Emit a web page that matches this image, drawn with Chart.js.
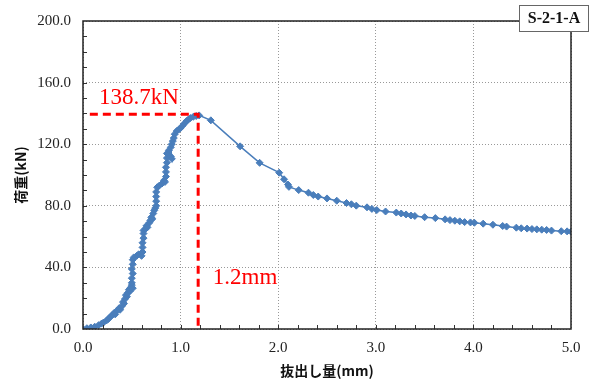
<!DOCTYPE html>
<html>
<head>
<meta charset="utf-8">
<script src="https://cdn.jsdelivr.net/npm/chart.js@4/dist/chart.umd.min.js"></script>
<style>
  html, body { margin: 0; padding: 0; background: #fff; }
  #wrap { width: 595px; height: 381px; }
</style>
</head>
<body>
<div id="wrap"><canvas id="pullout"></canvas></div>
<script>
// displacement (mm) and load (kN)
const slip = [
  0.00, 0.04, 0.08, 0.12, 0.16, 0.19, 0.21, 0.24, 0.26, 0.28, 0.30, 0.32, 0.33, 0.35, 0.37, 0.38,
  0.40, 0.41, 0.42, 0.43, 0.45, 0.44, 0.46, 0.47, 0.48, 0.49, 0.50, 0.51, 0.50, 0.50, 0.51, 0.50,
  0.51, 0.51, 0.52, 0.55, 0.57, 0.60, 0.61, 0.61, 0.61, 0.62, 0.62, 0.62, 0.64, 0.65, 0.66, 0.68,
  0.69, 0.70, 0.71, 0.72, 0.73, 0.74, 0.75, 0.75, 0.75, 0.75, 0.76, 0.78, 0.81, 0.83, 0.84, 0.85,
  0.85, 0.85, 0.86, 0.86, 0.86, 0.88, 0.90, 0.91, 0.90, 0.91, 0.92, 0.93, 0.94, 0.96, 0.98, 1.00,
  1.02, 1.04, 1.06, 1.08, 1.10, 1.13, 1.16, 1.19,
  1.31, 1.61, 1.81, 2.01, 2.06, 2.10, 2.11, 2.21, 2.31, 2.36, 2.41, 2.50, 2.60, 2.70, 2.75, 2.80,
  2.91, 2.96, 3.01, 3.10, 3.21, 3.26, 3.31, 3.36, 3.40, 3.50, 3.61, 3.71, 3.76, 3.81, 3.86, 3.91,
  3.97, 4.01, 4.10, 4.20, 4.30, 4.34, 4.44, 4.49, 4.55, 4.60, 4.65, 4.70, 4.75, 4.80, 4.90, 4.96, 5.00
];
const load = [
  0.0, 0.5, 1.0, 1.5, 2.5, 3.5, 4.2, 5.5, 6.5, 8.0, 9.0, 10.5, 9.5, 12.0, 13.5, 12.5,
  15.0, 17.5, 16.5, 19.5, 21.0, 22.0, 23.5, 25.5, 24.5, 27.0, 28.5, 26.5, 30.0, 33.0, 36.0, 39.0,
  42.0, 45.0, 46.5, 47.5, 48.5, 47.5, 50.0, 53.0, 56.0, 59.0, 62.0, 64.0, 65.0, 67.0, 66.0, 69.0,
  70.5, 72.5, 71.5, 75.0, 77.0, 78.5, 80.0, 83.0, 86.0, 89.0, 92.0, 93.0, 94.5, 96.5, 95.5, 99.0,
  102.0, 105.0, 108.0, 111.0, 114.0, 116.0, 112.0, 110.5, 118.0, 120.0, 122.0, 124.0, 126.5, 128.5, 129.5, 130.5,
  132.0, 133.5, 135.0, 136.0, 137.0, 137.8, 138.3, 138.7,
  135.5, 118.6, 107.9, 101.5, 97.2, 93.8, 92.3, 90.2, 88.5, 87.0, 86.0, 84.8, 83.3, 81.8, 81.0, 80.1,
  79.0, 78.0, 77.2, 76.3, 75.6, 75.0, 74.4, 73.7, 73.4, 72.6, 72.0, 71.2, 70.7, 70.3, 69.9, 69.4,
  69.2, 69.0, 68.4, 67.7, 66.9, 66.5, 65.8, 65.4, 65.2, 64.9, 64.7, 64.5, 64.3, 63.9, 63.5, 63.4, 63.2
];

// peak marker
const peakSlip = 1.18;
const peakLoad = 139.5;
const peakLabel = "138.7kN";
const slipLabel = "1.2mm";
const specimen = "S-2-1-A";

const xTicks = [0, 1, 2, 3, 4, 5];
const yTicks = [0, 40, 80, 120, 160, 200];

const serif = '"Liberation Serif", "Times New Roman", serif';
const blue = '#4a7ebb';

const points = slip.map((s, i) => ({ x: s, y: load[i] }));

// frame, inner minor ticks, red labels and the specimen box
const decor = {
  id: 'decor',
  afterDraw(chart) {
    const { ctx, chartArea: a, scales: { x, y } } = chart;
    ctx.save();

    ctx.strokeStyle = '#333';
    ctx.lineWidth = 1;
    ctx.beginPath();
    for (let v = 0.2; v < 5; v += 0.2) {
      const px = Math.round(x.getPixelForValue(v)) + 0.5;
      ctx.moveTo(px, a.bottom);
      ctx.lineTo(px, a.bottom - 4);
    }
    for (let v = 10; v < 200; v += 10) {
      const py = Math.round(y.getPixelForValue(v)) + 0.5;
      ctx.moveTo(a.left, py);
      ctx.lineTo(a.left + 4, py);
    }
    ctx.stroke();

    ctx.strokeStyle = '#222';
    ctx.lineWidth = 1.5;
    ctx.strokeRect(a.left, a.top, a.right - a.left, a.bottom - a.top);

    ctx.fillStyle = '#ff0000';
    ctx.font = '23px ' + serif;
    ctx.textAlign = 'left';
    ctx.textBaseline = 'alphabetic';
    ctx.fillText(peakLabel, x.getPixelForValue(0.165), y.getPixelForValue(peakLoad) - 10);
    ctx.fillText(slipLabel, x.getPixelForValue(1.33), y.getPixelForValue(29.5));

    ctx.fillStyle = '#fff';
    ctx.fillRect(519, 5, 69, 26);
    ctx.strokeStyle = '#666';
    ctx.lineWidth = 1;
    ctx.strokeRect(519.5, 5.5, 69, 26);
    ctx.fillStyle = '#111';
    ctx.font = 'bold 16px ' + serif;
    ctx.textAlign = 'center';
    ctx.textBaseline = 'middle';
    ctx.fillText(specimen, 554, 19);

    ctx.restore();
  }
};

new Chart(document.getElementById('pullout'), {
  type: 'scatter',
  data: {
    datasets: [
      {
        data: [{ x: 0.07, y: peakLoad }, { x: peakSlip, y: peakLoad }, { x: peakSlip, y: 0 }],
        showLine: true,
        borderColor: '#ff0000',
        borderWidth: 3,
        borderDash: [8, 5],
        pointRadius: 0,
        order: 0
      },
      {
        data: points,
        showLine: true,
        borderColor: blue,
        backgroundColor: blue,
        borderWidth: 1.5,
        pointStyle: 'rectRot',
        pointRadius: 3.5,
        pointBorderWidth: 1,
        order: 1
      }
    ]
  },
  options: {
    responsive: true,
    maintainAspectRatio: false,
    animation: false,
    layout: { padding: { top: 17, right: 24, left: 0, bottom: 0 } },
    plugins: { legend: { display: false }, tooltip: { enabled: false } },
    scales: {
      x: {
        type: 'linear',
        min: 0,
        max: 5,
        afterBuildTicks: s => { s.ticks = xTicks.map(v => ({ value: v })); },
        afterFit: s => { s.height = 52; },
        ticks: {
          callback: v => v.toFixed(1),
          font: { family: serif, size: 15 },
          color: '#222',
          padding: 10,
          maxRotation: 0
        },
        grid: { color: '#999', drawTicks: false, lineWidth: 1 },
        border: { display: false, dash: [1, 2] },
        title: {
          display: true,
          text: '抜出し量(mm)',
          font: { family: '"Noto Sans CJK JP", sans-serif', size: 14, weight: 'bold' },
          color: '#111',
          padding: { top: 0, bottom: 2 }
        }
      },
      y: {
        type: 'linear',
        min: 0,
        max: 200,
        afterBuildTicks: s => { s.ticks = yTicks.map(v => ({ value: v })); },
        afterFit: s => { s.width = 83; },
        ticks: {
          callback: v => v.toFixed(1),
          font: { family: serif, size: 15 },
          color: '#222',
          padding: 12
        },
        grid: { color: '#999', drawTicks: false, lineWidth: 1 },
        border: { display: false, dash: [1, 2] },
        title: {
          display: true,
          text: '荷重(kN)',
          font: { family: '"Noto Sans CJK JP", sans-serif', size: 14, weight: 'bold' },
          color: '#111',
          padding: { top: 12, bottom: 0 }
        }
      }
    }
  },
  plugins: [decor]
});
</script>
</body>
</html>
